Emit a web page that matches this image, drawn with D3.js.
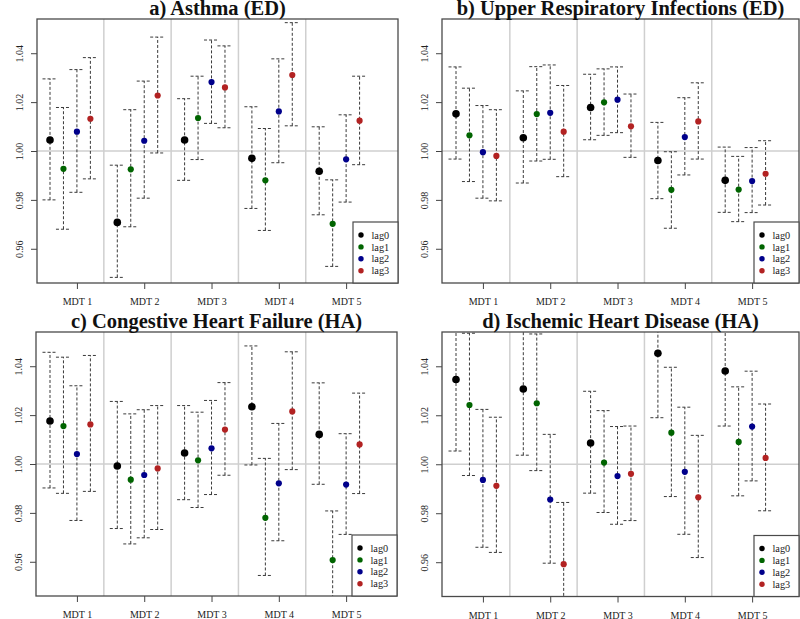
<!DOCTYPE html>
<html>
<head>
<meta charset="utf-8">
<script src="https://cdn.jsdelivr.net/npm/d3@7"></script>
<style>
  body { margin: 0; background: #fff; }
  svg { display: block; }
</style>
</head>
<body>
<svg id="chart" width="800" height="619"></svg>
<script>
// categories
const mdtLabels = ["MDT 1", "MDT 2", "MDT 3", "MDT 4", "MDT 5"];
const lagNames = ["lag0", "lag1", "lag2", "lag3"];
const lagColors = ["#000000", "#006400", "#00008b", "#b22222"];
const yTicks = [0.96, 0.98, 1.00, 1.02, 1.04];
const panelTitles = [
    "a) Asthma (ED)",
    "b) Upper Respiratory Infections (ED)",
    "c) Congestive Heart Failure (HA)",
    "d) Ischemic Heart Disease (HA)"
];

// estimates, ordered MDT1 lag0..lag3, MDT2 lag0..lag3, ...
const asthmaEst = [1.0045, 0.9927, 1.0079, 1.0132, 0.9708, 0.9925, 1.0042, 1.0227, 1.0045, 1.0135, 1.0282, 1.0260, 0.9970, 0.9880, 1.0162, 1.0311, 0.9917, 0.9702, 0.9966, 1.0124];
const asthmaLo  = [0.9800, 0.9680, 0.9831, 0.9886, 0.9483, 0.9690, 0.9807, 0.9992, 0.9880, 0.9965, 1.0113, 1.0095, 0.9765, 0.9675, 0.9952, 1.0103, 0.9739, 0.9528, 0.9791, 0.9944];
const asthmaHi  = [1.0295, 1.0178, 1.0333, 1.0382, 0.9942, 1.0169, 1.0286, 1.0466, 1.0214, 1.0306, 1.0454, 1.0430, 1.0181, 1.0092, 1.0377, 1.0525, 1.0099, 0.9882, 1.0148, 1.0306];

const uriEst = [1.0152, 1.0064, 0.9995, 0.9980, 1.0054, 1.0151, 1.0156, 1.0079, 1.0178, 1.0199, 1.0210, 1.0101, 0.9961, 0.9841, 1.0057, 1.0121, 0.9880, 0.9842, 0.9877, 0.9907];
const uriLo  = [0.9967, 0.9875, 0.9807, 0.9796, 0.9869, 0.9959, 0.9966, 0.9895, 1.0046, 1.0064, 1.0075, 0.9974, 0.9805, 0.9684, 0.9902, 0.9967, 0.9749, 0.9711, 0.9748, 0.9779];
const uriHi  = [1.0344, 1.0257, 1.0186, 1.0169, 1.0246, 1.0345, 1.0352, 1.0268, 1.0314, 1.0336, 1.0344, 1.0233, 1.0117, 0.9997, 1.0218, 1.0279, 1.0016, 0.9978, 1.0014, 1.0042];

const chfEst = [1.0176, 1.0155, 1.0041, 1.0162, 0.9992, 0.9936, 0.9955, 0.9982, 1.0045, 1.0015, 1.0064, 1.0141, 1.0234, 0.9780, 0.9921, 1.0215, 1.0121, 0.9607, 0.9916, 1.0080];
const chfLo  = [0.9902, 0.9880, 0.9769, 0.9888, 0.9736, 0.9673, 0.9698, 0.9732, 0.9854, 0.9822, 0.9875, 0.9954, 0.9996, 0.9544, 0.9686, 0.9977, 0.9917, 0.9410, 0.9712, 0.9879];
const chfHi  = [1.0457, 1.0437, 1.0320, 1.0444, 1.0256, 1.0205, 1.0222, 1.0239, 1.0239, 1.0212, 1.0260, 1.0333, 1.0483, 1.0023, 1.0166, 1.0459, 1.0332, 0.9808, 1.0124, 1.0290];

const ihdEst = [1.0346, 1.0242, 0.9936, 0.9912, 1.0307, 1.0249, 0.9856, 0.9592, 1.0087, 1.0007, 0.9952, 0.9961, 1.0453, 1.0129, 0.9969, 0.9865, 1.0381, 1.0091, 1.0154, 1.0026];
const ihdLo  = [1.0054, 0.9954, 0.9661, 0.9640, 1.0037, 0.9974, 0.9596, 0.9340, 0.9882, 0.9803, 0.9755, 0.9770, 1.0190, 0.9868, 0.9714, 0.9619, 1.0156, 0.9871, 0.9932, 0.9810];
const ihdHi  = [1.0640, 1.0535, 1.0224, 1.0192, 1.0580, 1.0532, 1.0122, 0.9844, 1.0298, 1.0219, 1.0154, 1.0156, 1.0720, 1.0396, 1.0233, 1.0118, 1.0610, 1.0316, 1.0380, 1.0246];

(() => {
    const svg = d3.select("#chart");
    const serif = '"Liberation Serif", "Times New Roman", "DejaVu Serif", serif';
    const unit = 13.46;          // pixels between neighbouring lags
    const yDomain = [0.946, 1.054];

    // plot regions of the four panels
    const panels = [
        { title: panelTitles[0], est: asthmaEst, lo: asthmaLo, hi: asthmaHi, left: 37,  right: 398, top: 19,  bottom: 283, x0: 50 },
        { title: panelTitles[1], est: uriEst,    lo: uriLo,    hi: uriHi,    left: 442, right: 799, top: 19,  bottom: 283, x0: 456 },
        { title: panelTitles[2], est: chfEst,    lo: chfLo,    hi: chfHi,    left: 36,  right: 397, top: 332, bottom: 596, x0: 50 },
        { title: panelTitles[3], est: ihdEst,    lo: ihdLo,    hi: ihdHi,    left: 442, right: 799, top: 332, bottom: 596.5, x0: 456 }
    ];

    panels.forEach((p, pi) => {
        // x position index: 5 * group + lag
        const x = d3.scaleLinear()
            .domain([(p.left - p.x0) / unit, (p.right - p.x0) / unit])
            .range([p.left, p.right]);
        const y = d3.scaleLinear().domain(yDomain).range([p.bottom, p.top]);

        const rows = p.est.map((v, i) => ({
            g: Math.floor(i / 4), lag: i % 4, pos: 5 * Math.floor(i / 4) + (i % 4),
            est: v, lo: p.lo[i], hi: p.hi[i]
        }));

        const clipId = "clip" + pi;
        svg.append("clipPath").attr("id", clipId)
            .append("rect")
            .attr("x", p.left).attr("y", p.top)
            .attr("width", p.right - p.left).attr("height", p.bottom - p.top);

        const g = svg.append("g");
        const inner = g.append("g").attr("clip-path", `url(#${clipId})`);

        // grey separators and reference line
        inner.selectAll(".sep")
            .data([4, 9, 14, 19])
            .enter().append("line")
            .attr("x1", d => x(d)).attr("x2", d => x(d))
            .attr("y1", p.top).attr("y2", p.bottom)
            .attr("stroke", "#cfcfcf").attr("stroke-width", 1.5);

        inner.append("line")
            .attr("x1", p.left).attr("x2", p.right)
            .attr("y1", y(1)).attr("y2", y(1))
            .attr("stroke", "#cfcfcf").attr("stroke-width", 1.5);

        // error bars
        const bars = inner.selectAll(".bar").data(rows).enter().append("g")
            .attr("stroke", "#3a3a3a").attr("stroke-width", 1).attr("stroke-dasharray", "3,2");
        bars.append("line")
            .attr("x1", d => x(d.pos)).attr("x2", d => x(d.pos))
            .attr("y1", d => y(d.lo)).attr("y2", d => y(d.hi));
        bars.append("line")
            .attr("x1", d => x(d.pos) - 7.5).attr("x2", d => x(d.pos) + 7.5)
            .attr("y1", d => y(d.hi)).attr("y2", d => y(d.hi));
        bars.append("line")
            .attr("x1", d => x(d.pos) - 7.5).attr("x2", d => x(d.pos) + 7.5)
            .attr("y1", d => y(d.lo)).attr("y2", d => y(d.lo));

        // points
        inner.selectAll(".pt").data(rows).enter().append("circle")
            .attr("cx", d => x(d.pos)).attr("cy", d => y(d.est))
            .attr("r", d => d.lag === 0 ? 3.8 : 3.1)
            .attr("fill", d => lagColors[d.lag]);

        // axes
        const xAxis = g.append("g")
            .attr("transform", `translate(0,${p.bottom})`)
            .call(d3.axisBottom(x)
                .tickValues(mdtLabels.map((m, i) => 5 * i + 2))
                .tickFormat((d, i) => mdtLabels[i])
                .tickSize(6).tickSizeOuter(0));
        xAxis.select(".domain").remove();
        xAxis.selectAll("line").attr("stroke", "#444");
        xAxis.selectAll("text")
            .attr("y", 22).attr("dy", 0)
            .style("font-family", serif).style("font-size", "10px").attr("fill", "#222");

        const yAxis = g.append("g")
            .attr("transform", `translate(${p.left},0)`)
            .call(d3.axisLeft(y).tickValues(yTicks).tickFormat(d3.format(".2f")).tickSize(6).tickSizeOuter(0));
        yAxis.select(".domain").remove();
        yAxis.selectAll("line").attr("stroke", "#444");
        yAxis.selectAll("text")
            .attr("transform", "rotate(-90)")
            .attr("x", 0).attr("y", -14).attr("dy", 0)
            .attr("text-anchor", "middle")
            .style("font-family", serif).style("font-size", "10px").attr("fill", "#222");

        // frame
        g.append("rect")
            .attr("x", p.left).attr("y", p.top)
            .attr("width", p.right - p.left).attr("height", p.bottom - p.top)
            .attr("fill", "none").attr("stroke", "#4a4a4a").attr("stroke-width", 1.3);

        // legend
        const lw = 45, lh = 61;
        const legend = g.append("g")
            .attr("transform", `translate(${p.right - lw},${p.bottom - lh})`);
        legend.append("rect")
            .attr("width", lw).attr("height", lh)
            .attr("fill", "#fff").attr("stroke", "#4a4a4a").attr("stroke-width", 1.2);
        const items = legend.selectAll(".item").data(lagNames).enter().append("g")
            .attr("transform", (d, i) => `translate(0,${13 + i * 11.9})`);
        items.append("circle").attr("cx", 8).attr("cy", 0).attr("r", 2.7)
            .attr("fill", (d, i) => lagColors[i]);
        items.append("text").attr("x", 18.5).attr("y", 0).attr("dy", "0.35em")
            .style("font-family", serif).style("font-size", "10.3px").attr("fill", "#222")
            .text(d => d);

        // title
        g.append("text")
            .attr("x", (p.left + p.right) / 2).attr("y", p.top - 4.5)
            .attr("text-anchor", "middle")
            .style("font-family", serif)
            .style("font-size", "20.5px").style("font-weight", "bold")
            .attr("fill", "#111")
            .text(p.title);
    });
})();
</script>
</body>
</html>
